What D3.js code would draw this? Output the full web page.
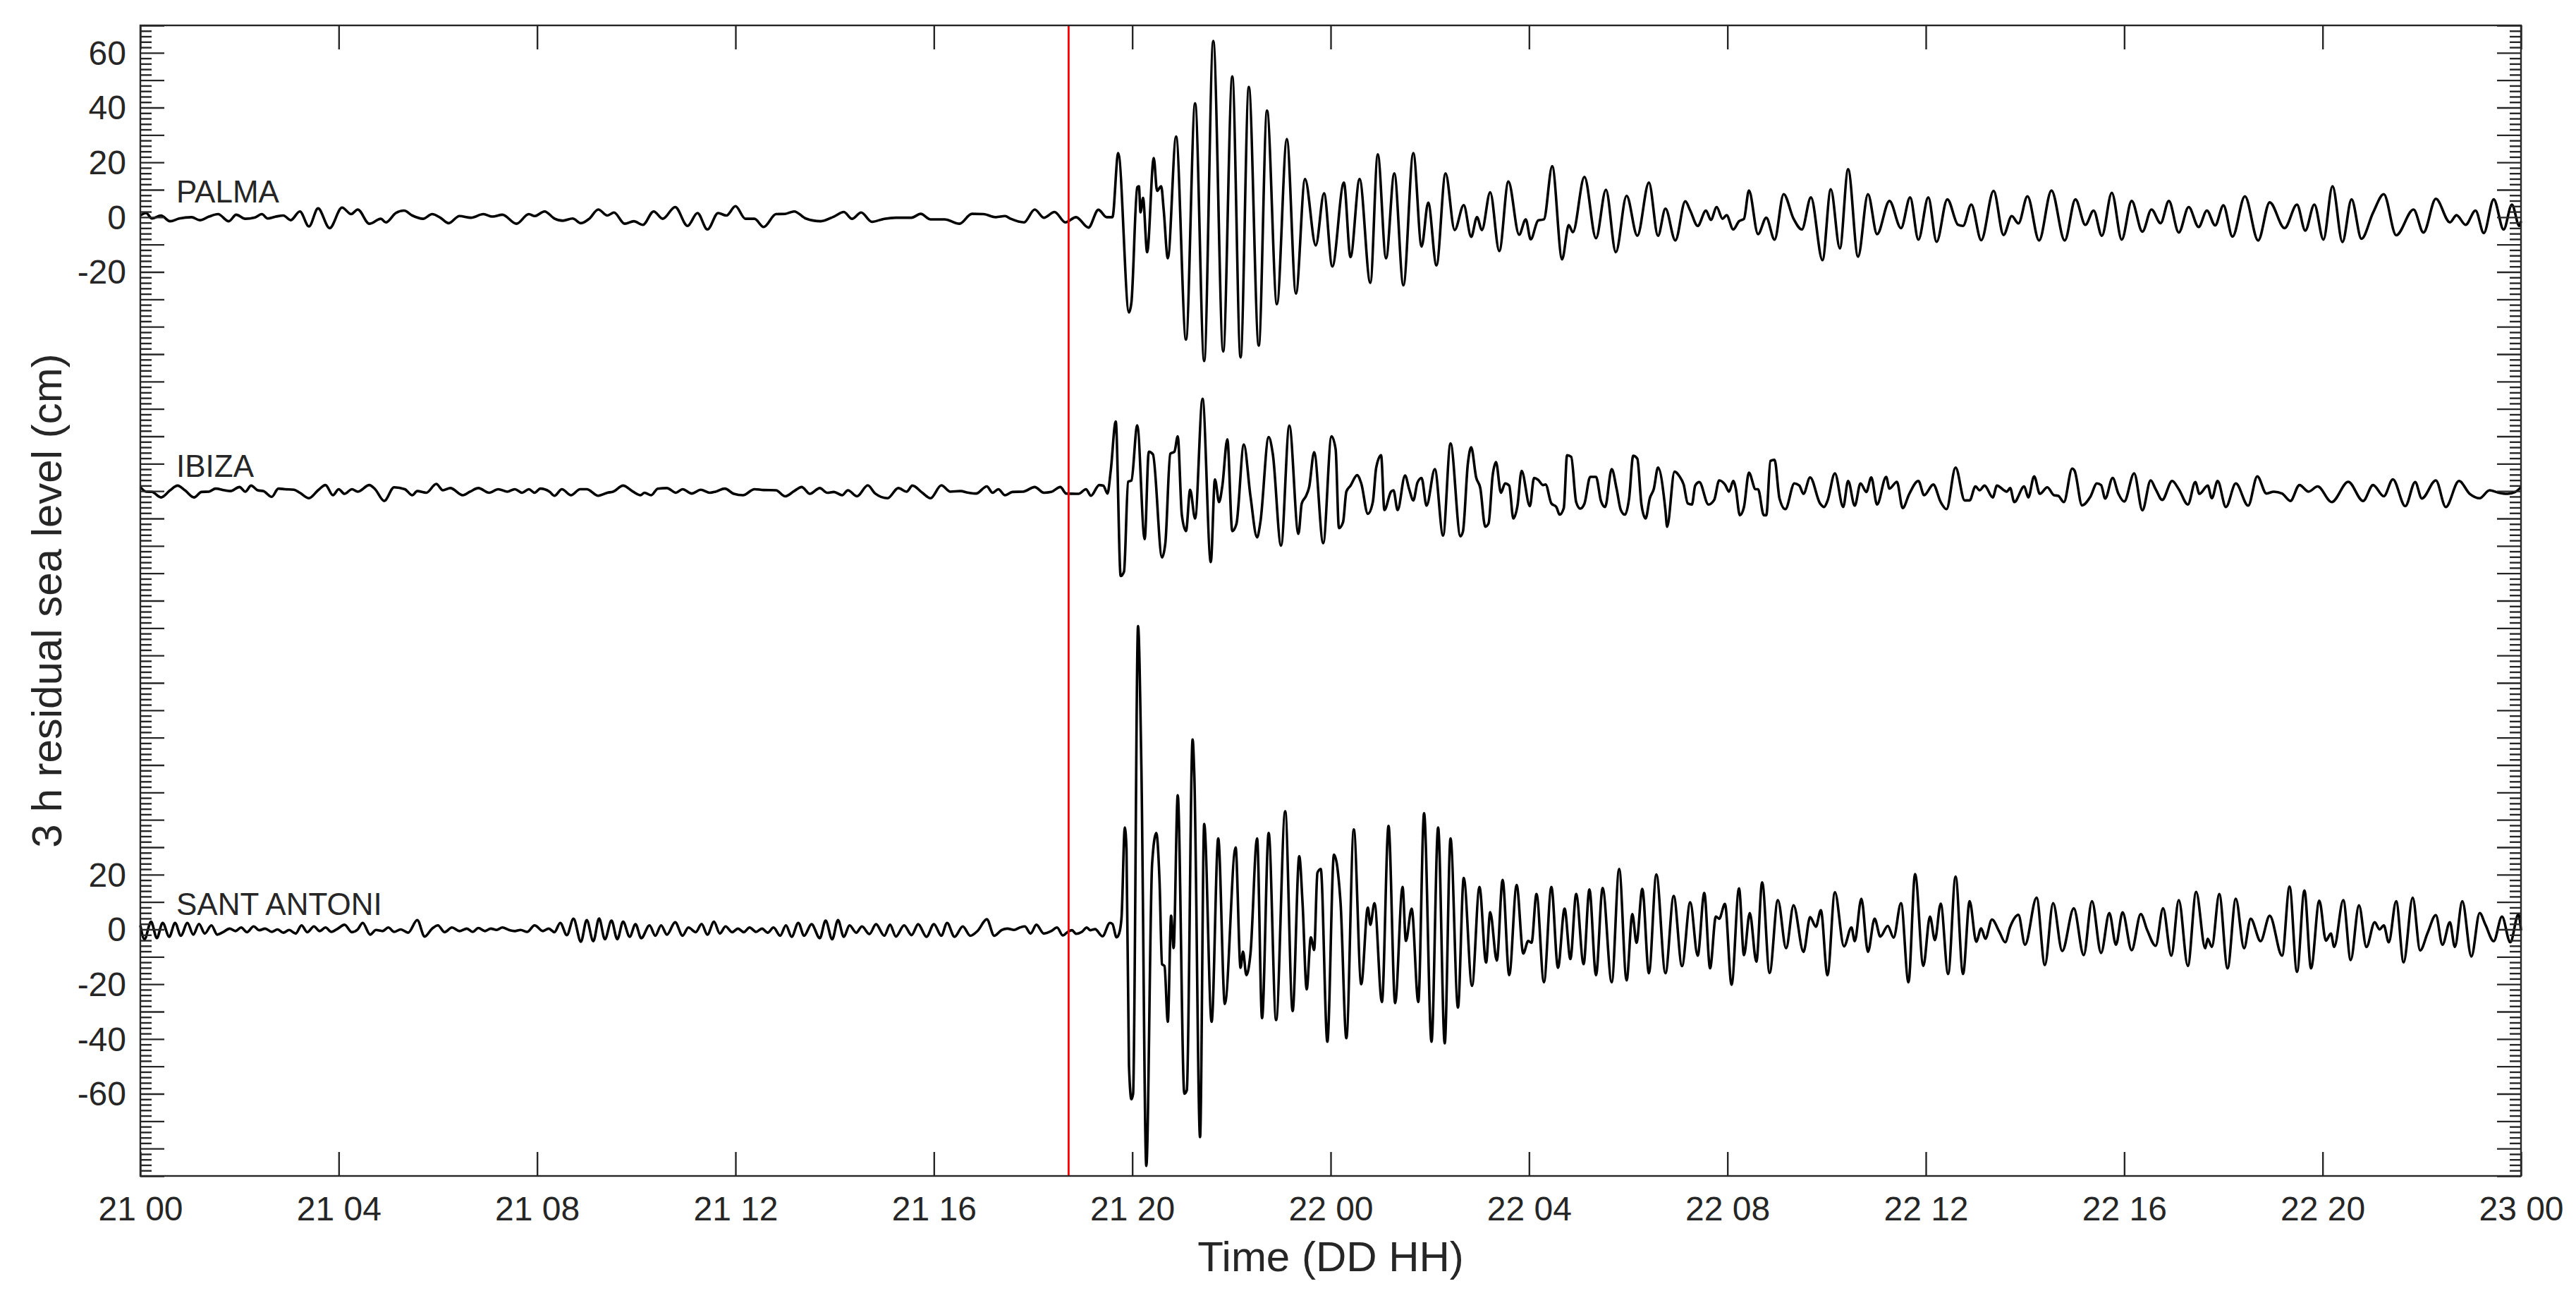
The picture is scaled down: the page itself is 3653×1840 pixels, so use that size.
<!DOCTYPE html>
<html>
<head>
<meta charset="utf-8">
<script src="https://cdn.jsdelivr.net/npm/d3@7"></script>
<style>
body { margin: 0; background: #fff; }
svg { display: block; }
text { font-family: "Liberation Sans", Arial, sans-serif; fill: #262626; }
</style>
</head>
<body>
<svg width="3653" height="1840"></svg>
<script>

// time in minutes from 21 00, residual in cm
var palma = [[0,0.6],[7,1.5],[14,-0.5],[25,0.6],[36,-1.5],[47,-0.5],[62,0],[72,-1.1],[83,0.2],[94,1.1],[107,-1.5],[116,0.9],[127,-0.6],[138,-0.2],[147,1.1],[154,-0.5],[164,0.2],[173,0.6],[182,-1.1],[193,2.1],[204,-3.4],[215,3.2],[229,-4],[244,3.5],[255,1.1],[263,2.8],[277,-2.4],[291,-0.6],[297,-1.9],[309,1.5],[319,2.4],[329,0.6],[342,-0.6],[353,1.1],[363,-0.2],[373,-2.2],[386,0.4],[400,-0.2],[415,1.1],[426,0.2],[438,0.9],[455,-2.4],[470,1.1],[477,0.4],[489,2.1],[501,-0.5],[511,-1.3],[523,-0.5],[533,-2.2],[543,-0.6],[554,2.8],[565,0.6],[573,1.7],[586,-2.4],[597,-1.5],[608,-2.8],[621,2.1],[632,-0.6],[647,3.7],[662,-3.2],[674,1.5],[686,-4.5],[699,1.5],[709,0.6],[720,4],[732,-0.6],[743,-0.6],[754,-3.6],[769,1.1],[780,1.2],[791,2.1],[805,-0.5],[823,-1.5],[839,0.2],[851,1.9],[861,-0.6],[872,1.7],[885,-1.7],[900,-0.6],[914,-0.2],[933,-0.2],[944,1.2],[956,-0.8],[973,-0.8],[991,-2.4],[1006,1.2],[1020,1.1],[1035,0],[1046,0.4],[1053,-0.6],[1069,-1.9],[1082,2.8],[1093,-0.2],[1106,1.9],[1119,-1.9],[1132,0],[1147,-3.8],[1159,2.7],[1169,0],[1176,0],[1183,23.4],[1196,-34.8],[1199,-31],[1206,10.9],[1208,11.3],[1210,1.8],[1213,7],[1218,-12.8],[1226,21.6],[1230,9.6],[1235,11.3],[1238,2.7],[1243,-15],[1253,29.4],[1265,-44.7],[1276,41.5],[1287,-52.5],[1298,64.3],[1310,-49],[1321,51.4],[1331,-51.2],[1341,47.5],[1353,-46.9],[1363,38.9],[1375,-31.8],[1387,28.5],[1398,-27.9],[1409,13.9],[1422,-10.3],[1432,8.7],[1442,-18],[1456,12.6],[1464,-14.6],[1475,13.9],[1488,-24],[1497,22.9],[1507,-15],[1517,16],[1528,-24.9],[1540,23.4],[1550,-10.7],[1558,5.3],[1568,-17.6],[1579,16],[1590,-4.7],[1601,4.4],[1610,-7.2],[1617,0],[1623,-4.7],[1633,9.1],[1644,-12.4],[1655,13],[1668,-6.4],[1676,-0.8],[1682,-8.1],[1691,-1.2],[1698,-0.8],[1708,18.6],[1720,-15.4],[1728,-2.9],[1733,-5.5],[1747,14.7],[1761,-7.7],[1773,10],[1785,-12.8],[1798,7.8],[1811,-6.8],[1825,12.6],[1836,-6.8],[1845,3.1],[1857,-8.5],[1869,5.8],[1875,2.4],[1884,-3.2],[1894,2.4],[1900,-1],[1907,3.7],[1914,-0.6],[1919,0.7],[1927,-4.5],[1934,-1.5],[1940,-0.6],[1946,9.7],[1957,-6.2],[1967,-0.2],[1977,-8.2],[1988,8.4],[2000,-0.6],[2010,-4.5],[2021,7.2],[2035,-15.7],[2045,10.2],[2056,-11.4],[2066,17.5],[2078,-14.4],[2090,8.4],[2101,-6.2],[2116,5.9],[2130,-4],[2141,7.2],[2151,-8.2],[2163,7.2],[2173,-9],[2186,6.5],[2199,-2.8],[2205,-3.2],[2215,4.6],[2227,-8.4],[2242,9.6],[2254,-6.5],[2264,0.4],[2272,-2.3],[2283,7.6],[2297,-8.5],[2312,9.7],[2328,-8.5],[2341,6.5],[2353,-2.8],[2363,2.4],[2373,-6.8],[2385,8.9],[2397,-8.2],[2409,5.9],[2422,-5.3],[2433,2.8],[2444,-2.2],[2454,5.9],[2466,-5.6],[2478,3.7],[2490,-3.6],[2500,2.4],[2510,-3],[2520,4.3],[2531,-7.1],[2546,7.6],[2562,-8.5],[2576,5.4],[2594,-4],[2609,4.6],[2619,-4.9],[2630,4.6],[2641,-8.2],[2652,11.3],[2664,-9.1],[2675,6.5],[2687,-7.9],[2701,1.6],[2714,8.4],[2729,-6.6],[2750,2.8],[2762,-5.6],[2777,6.7],[2794,-1.9],[2802,0.7],[2813,-2.8],[2825,2.4],[2835,-5.8],[2847,6.5],[2859,-4.5],[2869,4.6],[2878,-3.2],[2880,-1.5]];

var ibiza = [[0,1.5],[7,-0.2],[14,-0.3],[25,-2.3],[36,0.3],[45,2],[54,0.3],[65,-2.3],[74,-0.3],[83,-0.2],[91,0.9],[102,0.3],[109,0],[120,1.5],[127,-0.2],[134,2],[142,0.3],[149,0],[159,-2.1],[167,0.9],[175,0.7],[186,0.5],[193,-0.6],[204,-2.6],[215,0.3],[224,2.2],[233,-1.5],[240,0.7],[247,-1],[256,0.7],[263,-0.2],[277,2.2],[284,0.7],[295,-3.6],[307,1.4],[320,0.7],[329,-1.5],[335,0],[346,-0.6],[358,2.6],[366,0.3],[375,1.1],[390,-1.5],[399,-0.2],[409,1.1],[422,-0.6],[433,0.7],[444,-0.2],[453,0.7],[462,-0.6],[470,0.7],[477,-0.6],[484,0.9],[495,-0.2],[501,-1.7],[510,0.7],[521,-1.5],[532,0.7],[540,0.7],[554,-1.7],[565,-0.6],[572,-0.2],[584,2],[596,-0.2],[605,-1.5],[610,-0.6],[618,-1.5],[626,0.9],[637,1.1],[648,-0.6],[656,0.7],[667,-0.9],[678,0.5],[689,-0.6],[696,-0.2],[707,0.9],[718,-1],[729,-1.5],[743,0.7],[754,0.4],[769,0.3],[780,-1.9],[791,0],[800,1.5],[810,-1],[822,1.1],[831,-0.6],[839,-0.3],[849,-1.5],[856,0.3],[867,-1.9],[880,2.1],[889,-0.9],[904,-2.6],[917,1.1],[927,-0.2],[934,2],[946,-0.6],[956,-2.6],[969,2.1],[980,-0.2],[992,0],[1002,-0.6],[1011,-0.9],[1024,1.7],[1031,-0.6],[1038,0.7],[1046,-1.5],[1055,-0.3],[1068,-0.2],[1082,1.5],[1093,-0.6],[1102,-0.3],[1113,1.5],[1120,-0.9],[1135,-1],[1144,0.7],[1150,-1.7],[1160,2.2],[1165,2],[1170,-0.9],[1174,7.6],[1180,25.4],[1186,-31],[1190,-29.4],[1195,3.4],[1199,3.9],[1206,24],[1215,-17.5],[1220,14.4],[1225,13.4],[1236,-24.2],[1240,-19],[1246,13.6],[1251,14.4],[1255,20],[1260,-8.8],[1265,-14.6],[1270,0.5],[1276,-10],[1285,33.7],[1295,-25.9],[1300,4.3],[1305,-4],[1309,2],[1315,18.9],[1321,-14.6],[1326,-12],[1335,17],[1343,-1.9],[1351,-16.9],[1355,-11.3],[1365,19.7],[1370,13.6],[1380,-19.9],[1390,23.9],[1401,-15.6],[1405,-4.5],[1410,-1.9],[1414,1.5],[1420,14.2],[1431,-19],[1441,20],[1446,15.3],[1450,-13.5],[1455,-11.3],[1459,-0.2],[1464,2],[1472,5.8],[1477,2.8],[1485,-8.3],[1491,-4],[1495,8.4],[1501,13.1],[1505,-6.9],[1513,-0.2],[1516,0.3],[1521,-6.9],[1530,5.7],[1535,0.7],[1540,-3.4],[1545,3.1],[1550,4.8],[1556,-5.3],[1566,8],[1576,-16.2],[1585,17.4],[1597,-16.5],[1600,-14.8],[1606,10.1],[1610,16],[1616,5],[1621,1.1],[1627,-13],[1631,-11.8],[1636,5.8],[1640,10.6],[1646,-0.6],[1651,2.8],[1656,2],[1661,-10],[1666,-5.3],[1671,7.4],[1681,-5.5],[1686,4.8],[1691,4.1],[1697,2.2],[1700,2.4],[1707,-4.5],[1713,-5.8],[1717,-8.6],[1722,-6.2],[1726,13.1],[1731,12.5],[1737,-4],[1742,-6.4],[1747,-4.6],[1754,5.2],[1761,5.2],[1767,-3.6],[1772,-5.8],[1780,8],[1786,0.7],[1791,-6.9],[1796,-8.6],[1801,-2.7],[1806,12.9],[1811,11.8],[1816,-4.9],[1821,-10],[1826,-2.7],[1831,0.9],[1836,8.6],[1845,-7],[1847,-13],[1856,7.1],[1862,5.4],[1867,2.4],[1872,-4.5],[1877,-4.9],[1881,2],[1886,3.3],[1897,-4.9],[1904,-3.2],[1910,3.9],[1917,2.4],[1922,-0.2],[1927,3.7],[1930,1.1],[1935,-8.8],[1940,-5.8],[1946,6.7],[1954,0.7],[1957,0.7],[1964,-8.8],[1967,-8.8],[1972,11],[1977,11.4],[1983,-2.7],[1990,-6.6],[2001,2.8],[2007,2],[2012,-1],[2020,5],[2032,-4.5],[2037,-5.8],[2041,-3.6],[2050,6.5],[2060,-5.8],[2066,3.7],[2074,-5.3],[2081,2.8],[2088,-0.3],[2094,5],[2101,-4.9],[2112,5.2],[2116,0.9],[2125,3.4],[2132,-6.2],[2140,-1],[2151,3.7],[2158,-1.5],[2169,2.4],[2178,-4],[2185,-6.6],[2196,8.6],[2207,-3.4],[2213,-3.4],[2220,1.7],[2225,0.3],[2231,2],[2241,-2.3],[2246,2],[2258,-0.2],[2262,1.1],[2267,-4],[2279,1.7],[2284,-2.3],[2291,5.4],[2298,-1],[2307,1.4],[2315,-1.5],[2320,-1.7],[2327,-4],[2337,8.2],[2340,7.4],[2349,-5.2],[2359,-2.1],[2367,2.8],[2372,2.2],[2377,-2.7],[2386,4.8],[2393,-1],[2400,-3.8],[2412,6.5],[2422,-7],[2432,3.9],[2438,0.7],[2446,-3.2],[2458,3.7],[2466,0.7],[2477,-4.9],[2486,3.3],[2491,-1],[2501,2],[2506,-2.6],[2513,3.7],[2523,-5.8],[2535,2.8],[2550,-5.3],[2561,5.4],[2572,-0.9],[2581,-0.2],[2591,-0.9],[2601,-3.6],[2612,2.2],[2623,-0.2],[2634,1.7],[2651,-4],[2671,3.4],[2689,-3.6],[2701,2.2],[2714,-1.9],[2725,4.3],[2740,-5.5],[2752,3.3],[2760,-2.7],[2777,3.9],[2789,-5.8],[2805,3.7],[2818,-1],[2830,-2.6],[2842,0.3],[2853,-0.6],[2863,-1],[2873,-0.3],[2880,1.4]];

var santAntoni = [[0,1.5],[5,-3.6],[13,2.8],[20,-3.2],[27,2.4],[35,-2.7],[42,2.4],[49,-2.3],[57,2.4],[64,-1.9],[71,2],[78,-1.5],[86,1.5],[93,-1.9],[100,-1],[108,0.3],[115,-0.6],[122,0.7],[129,-1],[137,1.1],[144,-0.3],[151,0.3],[159,-0.9],[166,0],[173,-1.2],[180,-0.2],[188,-1.5],[195,1.5],[202,-1],[210,1.1],[217,-0.6],[224,0.7],[231,-0.9],[239,0.3],[247,1.7],[256,-1],[263,0],[269,2.4],[278,-1.9],[285,-0.2],[293,-0.6],[300,0.7],[307,-0.9],[315,0],[324,-1.2],[335,3.4],[344,-2.6],[353,0.3],[360,1.5],[368,-1],[377,0.7],[386,-0.6],[395,0.3],[402,-0.9],[409,0.5],[417,-0.6],[424,0.3],[431,-0.2],[438,0.7],[446,-0.2],[453,-0.6],[460,-0.2],[468,-0.9],[477,1.5],[487,-0.6],[494,0.3],[501,-1],[508,2.4],[516,-2.1],[524,3.9],[533,-4.5],[540,3.4],[548,-4.3],[555,4],[562,-3.6],[570,3.2],[577,-3.6],[584,2.8],[592,-2.7],[599,1.9],[606,-3.2],[616,1.5],[623,-2.3],[630,1.5],[637,-1.9],[647,2.6],[656,-2.3],[663,0.7],[672,-1],[679,2],[686,-1.9],[694,2.8],[701,-1.5],[708,1.1],[716,-1],[723,0.3],[730,-1],[737,0.7],[745,-0.9],[752,0.3],[759,-1.2],[766,0.7],[774,-2.3],[781,1.5],[788,-2.7],[796,2.4],[803,-2.3],[812,1.9],[822,-3.2],[829,3.2],[837,-3.6],[844,3.4],[851,-2.7],[858,1.5],[866,-1.2],[873,1.1],[882,-1.7],[890,1.9],[900,-2.3],[907,1.7],[914,-2.6],[924,1.5],[933,-2.1],[941,1.9],[951,-2.7],[960,1.9],[969,-2.3],[976,2.4],[985,-2.7],[995,1.1],[1004,-2.3],[1013,-0.5],[1024,3.7],[1033,-2.3],[1042,-0.2],[1049,0.3],[1057,-0.2],[1064,0.7],[1070,1.1],[1077,-1.5],[1084,1.7],[1093,-1.5],[1102,-0.6],[1109,0.7],[1116,-2.2],[1122,-0.9],[1127,-0.3],[1132,-1.6],[1139,-0.9],[1145,0.7],[1149,-0.3],[1155,0.1],[1164,-2.5],[1173,2.4],[1176,2],[1181,-2.9],[1184,-1.6],[1187,4.3],[1191,37.2],[1193,29.3],[1196,-49.5],[1199,-62],[1201,-60],[1207,110.7],[1211,59.5],[1217,-86.3],[1224,24],[1229,35.2],[1233,17.5],[1236,-12.7],[1239,-13.4],[1243,-33.7],[1247,5],[1250,-6.8],[1255,49],[1263,-60],[1266,-58.7],[1273,69.3],[1275,56.9],[1282,-75.8],[1287,38.5],[1296,-33.7],[1304,33.2],[1312,-27.2],[1325,29.9],[1331,-14],[1334,-8.1],[1338,-16.7],[1343,-8.8],[1351,33.2],[1357,-32.4],[1365,35.2],[1374,-33.1],[1385,43.1],[1394,-29.8],[1402,26.7],[1406,9.6],[1411,-21.9],[1416,-2.9],[1420,-7.5],[1424,20.7],[1428,22.1],[1436,-41],[1444,27.3],[1452,9.6],[1459,-39.7],[1468,36.5],[1477,-20],[1485,8],[1488,1.7],[1493,9.6],[1502,-26.5],[1510,37.8],[1518,-26.9],[1527,15.5],[1531,-4.2],[1538,7.6],[1546,-26.5],[1553,42.4],[1562,-41],[1570,37.2],[1578,-41.6],[1585,33.2],[1594,-28.5],[1601,18.8],[1611,-20.6],[1620,15.5],[1628,-12.1],[1633,6.3],[1641,-11.4],[1648,18.1],[1656,-16.7],[1665,16.2],[1673,-8.8],[1679,-4.2],[1683,-4.9],[1689,12.9],[1698,-19.3],[1707,15.5],[1715,-14],[1723,7.6],[1730,-10.8],[1737,12.9],[1746,-12.7],[1753,14.6],[1761,-16.7],[1769,15.1],[1780,-19.3],[1789,22.1],[1798,-18.6],[1805,5.6],[1810,-4.9],[1817,14.8],[1825,-16],[1834,20.1],[1845,-16],[1855,12.2],[1865,-13.4],[1875,9.9],[1884,-9.6],[1892,13.3],[1899,-14.2],[1906,4.7],[1910,3.9],[1917,9.3],[1925,-20.2],[1934,15],[1940,-9.4],[1947,6],[1955,-11.8],[1962,17.2],[1971,-15.9],[1981,10.7],[1991,-6.9],[2000,8.8],[2012,-8.2],[2020,4.5],[2027,1],[2033,7],[2041,-16.7],[2050,13.6],[2061,-6.2],[2070,0.7],[2074,-4.3],[2082,11.2],[2090,-8.2],[2098,3.9],[2105,-2.6],[2114,1.3],[2121,-3],[2130,9.6],[2139,-19.3],[2147,20.2],[2157,-13.3],[2165,4.7],[2171,-3.9],[2178,9.4],[2187,-16.3],[2196,19.3],[2205,-16.3],[2213,10.3],[2221,-4.5],[2227,0.4],[2232,-3.4],[2240,3.6],[2249,-0.9],[2256,-4.7],[2262,0.9],[2272,5.3],[2280,-5.6],[2294,11.6],[2304,-13],[2314,9.6],[2325,-7.9],[2339,7.7],[2351,-9.4],[2361,10.3],[2372,-8.6],[2382,6],[2390,-5.6],[2398,6.2],[2409,-7.6],[2420,5.6],[2428,-0.4],[2438,-6],[2447,7.7],[2457,-9.6],[2466,10.7],[2477,-13.3],[2487,13.7],[2498,-6.9],[2501,-3.4],[2506,-6.4],[2515,12.9],[2525,-14.2],[2535,11.2],[2545,-6.9],[2553,3.9],[2565,-4.3],[2576,5],[2591,-9.6],[2600,15.6],[2609,-15.5],[2618,14.2],[2626,-14.2],[2636,10.5],[2644,-4.1],[2650,-1.5],[2654,-6.4],[2665,10.7],[2674,-11.2],[2684,8.8],[2693,-6.4],[2703,2.6],[2709,0],[2714,1.5],[2720,-4.7],[2729,10.3],[2738,-12],[2749,11.6],[2758,-7.7],[2767,-1.3],[2777,5.2],[2785,-5.6],[2794,2.6],[2800,-6.4],[2809,10.3],[2820,-9.9],[2830,6],[2837,1.7],[2847,-4.3],[2857,4.7],[2867,-4.7],[2877,5.6],[2880,-0.4]];

var stations = ['PALMA', 'IBIZA', 'SANT ANTONI'];
var offsets = [0, -100, -260];          // vertical shift of each record (cm)
var eventTime = 1123;                   // red line, 21 18:43

var xTicks = [0, 240, 480, 720, 960, 1200, 1440, 1680, 1920, 2160, 2400, 2640, 2880];
var xTickLabels = ['21 00','21 04','21 08','21 12','21 16','21 20','22 00','22 04','22 08','22 12','22 16','22 20','23 00'];
var palmaTickLabels = [60, 40, 20, 0, -20];
var santTickLabels = [20, 0, -20, -40, -60];

var yMin = -350, yMax = 70;

var svg = d3.select('svg');
var width = +svg.attr('width'), height = +svg.attr('height');
var margin = {left: 199, right: 78, top: 36, bottom: 173};
var innerwidth = width - margin.left - margin.right;
var innerheight = height - margin.top - margin.bottom;

var x = d3.scaleLinear().domain([0, 2880]).range([0, innerwidth]);
var y = d3.scaleLinear().domain([yMin, yMax]).range([innerheight, 0]);

var g = svg.append('g').attr('transform', `translate(${margin.left},${margin.top})`);

// records
var line = d3.line()
	.x(d => x(d[0]))
	.y(d => y(d[1]))
	.curve(d3.curveMonotoneX);

[palma, ibiza, santAntoni].forEach(function (series, i) {
	var shifted = series.map(d => [d[0], d[1] + offsets[i]]);
	g.append('path')
		.datum(shifted)
		.attr('fill', 'none')
		.attr('stroke', '#000')
		.attr('stroke-width', 3.6)
		.attr('stroke-linejoin', 'round')
		.attr('d', line);

	g.append('text')
		.attr('x', 51)
		.attr('y', y(offsets[i] + 5.3))
		.style('font-size', '44px')
		.text(stations[i]);
});

// event line
g.append('line')
	.attr('x1', x(eventTime)).attr('x2', x(eventTime))
	.attr('y1', 0).attr('y2', innerheight)
	.attr('stroke', '#ff0000')
	.attr('stroke-width', 2.8);

// axes, ticks pointing in
var majorY = d3.range(yMin, yMax + 1, 10);
var minorY = d3.range(yMin, yMax + 1, 2).filter(v => v % 10 !== 0);

function styleAxis(sel) {
	sel.select('.domain').remove();
	sel.selectAll('line').attr('stroke', '#262626').attr('stroke-width', 2.4);
	sel.selectAll('text').style('font-size', '48px').attr('fill', '#262626')
		.style('font-family', '"Liberation Sans", Arial, sans-serif');
}

g.append('g').call(d3.axisLeft(y).tickValues(majorY).tickSize(-34).tickFormat('')).call(styleAxis);
g.append('g').call(d3.axisLeft(y).tickValues(minorY).tickSize(-16).tickFormat('')).call(styleAxis);
g.append('g').attr('transform', `translate(${innerwidth},0)`)
	.call(d3.axisRight(y).tickValues(majorY).tickSize(-34).tickFormat('')).call(styleAxis);
g.append('g').attr('transform', `translate(${innerwidth},0)`)
	.call(d3.axisRight(y).tickValues(minorY).tickSize(-16).tickFormat('')).call(styleAxis);

g.append('g').attr('transform', `translate(0,${innerheight})`)
	.call(d3.axisBottom(x).tickValues(xTicks).tickSize(-34).tickPadding(29)
		.tickFormat((d, i) => xTickLabels[i]))
	.call(styleAxis);
g.append('g')
	.call(d3.axisTop(x).tickValues(xTicks).tickSize(-34).tickFormat(''))
	.call(styleAxis);

// y labels only near PALMA and SANT ANTONI
var ylab = g.append('g').style('font-size', '48px').attr('text-anchor', 'end');
palmaTickLabels.forEach(function (v) {
	ylab.append('text').attr('x', -20).attr('y', y(v + offsets[0])).attr('dy', '0.35em').text(v);
});
santTickLabels.forEach(function (v) {
	ylab.append('text').attr('x', -20).attr('y', y(v + offsets[2])).attr('dy', '0.35em').text(v);
});

// frame
g.append('rect')
	.attr('width', innerwidth).attr('height', innerheight)
	.attr('fill', 'none').attr('stroke', '#262626').attr('stroke-width', 2.4);

// titles
svg.append('text')
	.attr('x', margin.left + innerwidth / 2)
	.attr('y', 1802)
	.attr('text-anchor', 'middle')
	.style('font-size', '60px')
	.text('Time (DD HH)');

svg.append('text')
	.attr('transform', `translate(87,${margin.top + innerheight / 2}) rotate(-90)`)
	.attr('text-anchor', 'middle')
	.style('font-size', '60px')
	.text('3 h residual sea level (cm)');

</script>
</body>
</html>
